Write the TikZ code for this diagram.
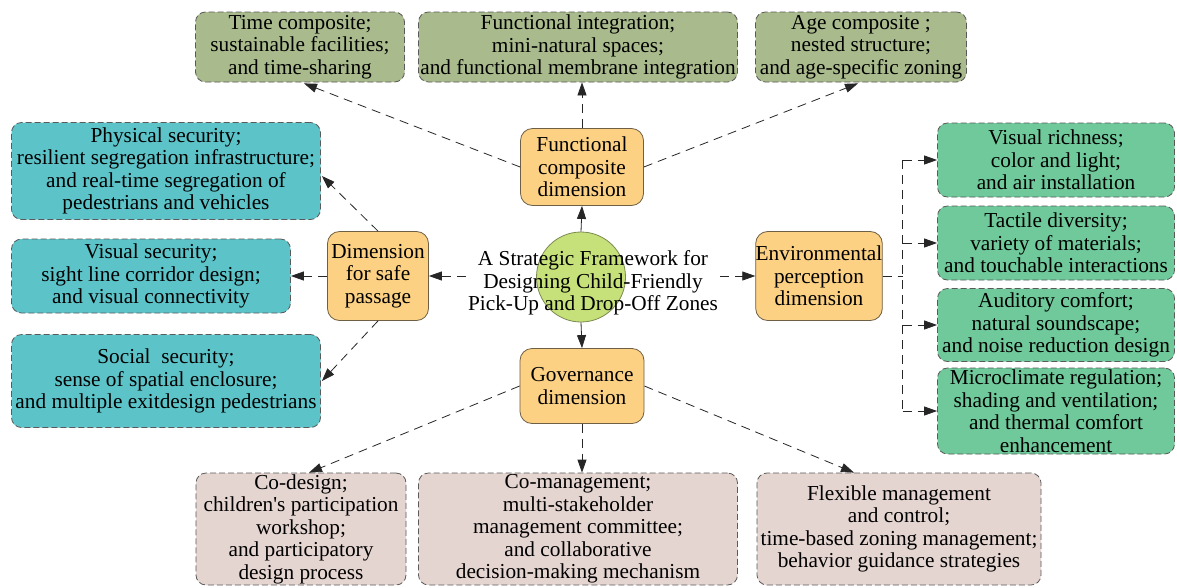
\documentclass[tikz,border=0pt]{standalone}
\usepackage{fontspec}
\setmainfont{Liberation Serif}
\usetikzlibrary{arrows.meta,calc,shapes.geometric}
\definecolor{olivebox}{HTML}{A9BA8C}
\definecolor{cyanbox}{HTML}{5CC4C9}
\definecolor{greenbox}{HTML}{6FC99A}
\definecolor{pinkbox}{HTML}{E5D5D0}
\definecolor{orangebox}{HTML}{FCD184}
\definecolor{orangeline}{HTML}{6E5F45}
\definecolor{hubfill}{HTML}{C6E07A}
\definecolor{hubline}{HTML}{7C8A50}
\definecolor{leafline}{HTML}{5A5A5A}
\tikzset{
  txt/.style={font=\fontsize{21.3}{22.5}\selectfont, align=center, inner sep=0pt},
  leaf/.style={txt, rounded corners=10pt, draw=leafline, line width=0.8pt,
    dash pattern=on 6pt off 3pt},
  olive/.style={leaf, fill=olivebox},
  cyanb/.style={leaf, fill=cyanbox},
  greenb/.style={leaf, fill=greenbox},
  pinkb/.style={leaf, fill=pinkbox},
  dim/.style={txt, rounded corners=12pt, draw=orangeline, line width=0.8pt, fill=orangebox},
  conn/.style={draw=black!85, line width=0.8pt, dash pattern=on 9pt off 6pt},
  arr/.style={conn, -{Triangle[length=13pt,width=9pt]}},
  sarr/.style={draw=black!85, line width=0.8pt, -{Triangle[length=13pt,width=9pt]}}
}
\begin{document}
\begin{tikzpicture}[x=1pt,y=-1pt]
\useasboundingbox[fill=white] (0,0) rectangle (1177,587);
% top row
\node[olive, minimum width=209pt, minimum height=70pt] (T1) at (300,47)
  {Time composite;\\sustainable facilities;\\and time-sharing};
\node[olive, minimum width=319pt, minimum height=70pt] (T2) at (578,47)
  {Functional integration;\\mini-natural spaces;\\and functional membrane integration};
\node[olive, minimum width=211pt, minimum height=70pt] (T3) at (861,47)
  {Age composite ;\\nested structure;\\and age-specific zoning};
% left column
\node[cyanb, minimum width=309pt, minimum height=97pt] (L1) at (166,171)
  {Physical security;\\resilient segregation infrastructure;\\and real-time segregation of\\pedestrians and vehicles};
\node[cyanb, minimum width=279pt, minimum height=74pt] (L2) at (151,276)
  {Visual security;\\sight line corridor design;\\and visual connectivity};
\node[cyanb, minimum width=309pt, minimum height=93pt] (L3) at (166,381)
  {Social~~security;\\sense of spatial enclosure;\\and multiple exitdesign pedestrians};
% right column
\node[greenb, minimum width=237pt, minimum height=74pt] (G1) at (1056,160)
  {Visual richness;\\color and light;\\and air installation};
\node[greenb, minimum width=237pt, minimum height=74pt] (G2) at (1056,243)
  {Tactile diversity;\\variety of materials;\\and touchable interactions};
\node[greenb, minimum width=237pt, minimum height=73pt] (G3) at (1056,325)
  {Auditory comfort;\\natural soundscape;\\and noise reduction design};
\node[greenb, minimum width=237pt, minimum height=86pt] (G4) at (1056,411)
  {Microclimate regulation;\\shading and ventilation;\\and thermal comfort\\enhancement};
% bottom row
\node[pinkb, minimum width=210pt, minimum height=112pt] (B1) at (301,529)
  {Co-design;\\children\textquotesingle s participation\\workshop;\\and participatory\\design process};
\node[pinkb, minimum width=319pt, minimum height=112pt] (B2) at (578,529)
  {Co-management;\\multi-stakeholder\\management committee;\\and collaborative\\decision-making mechanism};
\node[pinkb, minimum width=284pt, minimum height=112pt] (B3) at (899,529)
  {Flexible management\\and control;\\time-based zoning management;\\behavior guidance strategies};
% dimensions
\node[dim, minimum width=123pt, minimum height=77pt] (F) at (582,167)
  {Functional\\composite\\dimension};
\node[dim, minimum width=101pt, minimum height=89pt] (S) at (378,276)
  {Dimension\\for safe\\passage};
\node[dim, minimum width=125pt, minimum height=89pt] (E) at (819,276)
  {Environmental\\perception\\dimension};
\node[dim, minimum width=124pt, minimum height=75pt] (G) at (582,386)
  {Governance\\dimension};
% hub
\node[ellipse, draw=hubline, line width=0.8pt, fill=hubfill, minimum width=89pt, minimum height=90pt, inner sep=0pt] (hub) at (581,277) {};
\node[txt, inner xsep=2pt] (hubtext) at (593,283)
  {A Strategic Framework for\\Designing Child-Friendly\\Pick-Up and Drop-Off Zones};
% hub connectors
\draw[sarr] (hub.north) -- (F.south);
\draw[sarr] (hub.south) -- (G.north);
\draw[arr] (hubtext.west |- S.east) -- (S.east);
\draw[arr] (hubtext.east |- E.west) -- (E.west);
% functional
\draw[arr] (F.west) -- ($(T1.south)+(4,1)$);
\draw[arr] (F.north) -- (F.north |- T2.south);
\draw[arr] (F.east) -- ($(T3.south)+(-3,1)$);
% safe passage
\draw[arr] (S.north) -- ($(L1.east)+(1,5)$);
\draw[arr] (S.west) -- (S.west -| L2.east);
\draw[arr] (S.south) -- ($(L3.east)+(1,0)$);
% governance
\draw[arr] (G.west) -- ($(B1.north)+(8,0)$);
\draw[arr] (G.south) -- (G.south |- B2.north);
\draw[arr] (G.east) -- ($(B3.north)+(-45,0)$);
% environmental bus
\coordinate (bus) at ($(E.east)+(20,0)$);
\coordinate (bus1) at (bus |- G1.west);
\coordinate (bus4) at (bus |- G4.west);
\draw[conn] (E.east) -- (bus);
\draw[conn] (bus1) -- (bus4);
\draw[arr] (bus1) -- (G1.west);
\draw[arr] (bus |- G2.west) -- (G2.west);
\draw[arr] (bus |- G3.west) -- (G3.west);
\draw[arr] (bus4) -- (G4.west);
\end{tikzpicture}
\end{document}
